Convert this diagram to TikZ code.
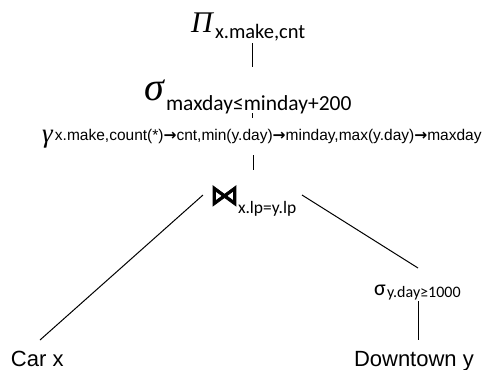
\documentclass[tikz,border=0pt]{standalone}
\usepackage{fontspec}
\setmainfont{Carlito}
\newfontfamily\grk{Liberation Serif}
\newfontfamily\arialf{Liberation Sans}
\newfontfamily\dejavu{DejaVu Sans}
\newfontfamily\dejavufat[FakeBold=2.5]{DejaVu Sans}
\newcommand\fsz[1]{\fontsize{#1pt}{#1pt}\selectfont}
\begin{document}
\begin{tikzpicture}[x=1pt,y=-1pt,
  every node/.style={inner sep=0pt, outer sep=0pt, anchor=base west},
  link/.style={line width=1pt, black}]
\useasboundingbox (0,0) rectangle (483,370);
% projection
\node (pi) at (191,32) {\grk\itshape\fsz{30}Π};
\node (pisub) at (215,38) {\fsz{20.5}x.make,cnt};
% selection
\node (sig) at (144,100) {\grk\itshape\fsz{40}σ};
\node (sigsub) at (166,110) {\fsz{21.5}maxday≤minday+200};
% grouping
\node (gam) at (42,142) {\grk\itshape\fsz{27}γ};
\node (gamsub) at (55,140) {\arialf\fsz{15.5}x.make,count(*){\dejavu\bfseries →}cnt,min(y.day){\dejavu\bfseries →}minday,max(y.day){\dejavu\bfseries →}maxday};
% join
\node (join) at (210,205) {\dejavufat\fsz{29}⋈};
\node (joinsub) at (238,213) {\fsz{17.5}x.lp=y.lp};
% selection on downtown
\node (sel) at (374,295) {\fsz{22}σ};
\node (selsub) at (387,297) {\fsz{16}y.day≥1000};
% relations
\node (car) at (11,366) {\arialf\fsz{22}Car x};
\node (down) at (354,366) {\arialf\fsz{22}Downtown y};
% connector ends
\coordinate (piB) at (252,43);
\coordinate (sigT) at (252,67);
\coordinate (sigB) at (252,113);
\coordinate (gamT) at (252,118);
\coordinate (gamB) at (253,155);
\coordinate (joinT) at (253,170);
\coordinate (joinL) at (203,195);
\coordinate (carT) at (40,340);
\coordinate (joinR) at (302,195);
\coordinate (selT) at (418,268);
\coordinate (selB) at (418,301);
\coordinate (downT) at (418,340);
\draw[link] (piB) -- (sigT);
\draw[link] (sigB) -- (gamT);
\draw[link] (gamB) -- (joinT);
\draw[link] (joinL) -- (carT);
\draw[link] (joinR) -- (selT);
\draw[link] (selB) -- (downT);
\end{tikzpicture}
\end{document}
